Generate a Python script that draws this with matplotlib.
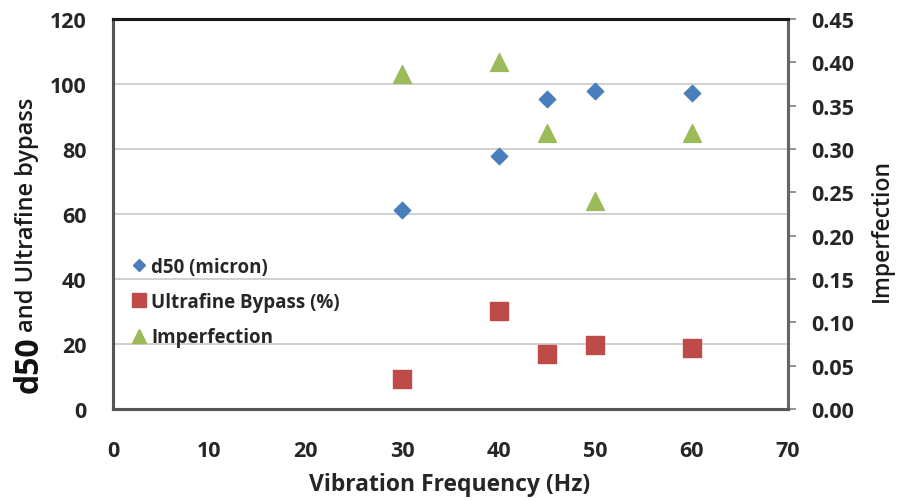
import matplotlib
matplotlib.use("Agg")
import matplotlib.pyplot as plt
from matplotlib.lines import Line2D

plt.rcParams['font.family'] = ['Open Sans', 'DejaVu Sans']

freq = [30, 40, 45, 50, 60]
d50 = [61.2, 77.8, 95.4, 98.0, 97.2]
ultrafine = [9.2, 30.2, 16.9, 19.7, 18.9]
imperfection = [0.387, 0.400, 0.319, 0.240, 0.319]

left_ticks = [0, 20, 40, 60, 80, 100, 120]
right_ticks = [0.00, 0.05, 0.10, 0.15, 0.20, 0.25, 0.30, 0.35, 0.40, 0.45]
x_ticks = [0, 10, 20, 30, 40, 50, 60, 70]

c_blue = '#4A7EBB'
c_red = '#BE4B48'
c_green = '#9BBB59'
c_text = '#262626'

W, H = 899, 502
fig = plt.figure(figsize=(W / 100, H / 100), dpi=100)
ax = fig.add_axes([113 / W, 1 - 410 / H, (788 - 113) / W, (410 - 20) / H])
ax2 = ax.twinx()

ax.set_xlim(0, 70)
ax.set_ylim(0, 120)
ax2.set_ylim(0, 0.45)

ax.scatter(freq, d50, marker='D', s=70, color=c_blue, zorder=3)
ax.scatter(freq, ultrafine, marker='s', s=150, color=c_red, zorder=3)
ax2.scatter(freq, imperfection, marker='^', s=165, color=c_green, zorder=3)

ax.set_yticks(left_ticks)
ax.set_xticks(x_ticks)
ax2.set_yticks(right_ticks)
ax2.set_yticklabels([f'{v:.2f}' for v in right_ticks])

ax.grid(axis='y', color='#c8c8c8', linewidth=1.2)
ax.set_axisbelow(True)

for lab in ax.get_xticklabels() + ax.get_yticklabels() + ax2.get_yticklabels():
    lab.set_fontsize(15.5)
    lab.set_fontweight('bold')
    lab.set_color(c_text)

ax.tick_params(axis='x', length=0, pad=22)
ax.tick_params(axis='y', length=0, pad=19)
ax2.tick_params(axis='y', length=6, width=1.2, color='#808080', pad=11, direction='out')

for a in (ax, ax2):
    a.spines['top'].set_color('#1a1a1a')
    a.spines['top'].set_linewidth(2.2)
    a.spines['left'].set_color('#555555')
    a.spines['left'].set_linewidth(2.2)
    a.spines['bottom'].set_color('#555555')
    a.spines['bottom'].set_linewidth(2.2)
    a.spines['right'].set_color('#666666')
    a.spines['right'].set_linewidth(2.2)

fig.text(450 / W, 1 - 485 / H, 'Vibration Frequency (Hz)', fontsize=16.5,
         fontweight='bold', color=c_text, ha='center', va='center')

# left axis title: "d50" set larger and bold, the rest in regular weight
fig.text(29 / W, 1 - 393 / H, 'd50', fontsize=23, fontweight='bold',
         color='#111111', rotation=90, ha='center', va='bottom')
fig.text(27 / W, 1 - 332 / H, 'and Ultrafine bypass', fontsize=17,
         fontweight='semibold', color='#1a1a1a', rotation=90, ha='center', va='bottom')

fig.text(882 / W, 1 - 230 / H, 'Imperfection', fontsize=16.5,
         fontweight='semibold', color='#1a1a1a', rotation=90, ha='center', va='center')

handles = [
    Line2D([], [], marker='D', color=c_blue, linestyle='none', markersize=6.5),
    Line2D([], [], marker='s', color=c_red, linestyle='none', markersize=9.5),
    Line2D([], [], marker='^', color=c_green, linestyle='none', markersize=9.5),
]
labels = ['d50 (micron)', 'Ultrafine Bypass (%)', 'Imperfection']
leg = ax2.legend(handles, labels, loc='upper left',
                 bbox_to_anchor=(0.018, 0.41), frameon=False,
                 handlelength=0.7, handletextpad=0.3, labelspacing=0.82,
                 borderaxespad=0.0,
                 prop={'size': 13.5, 'weight': 'bold'})
for t in leg.get_texts():
    t.set_color(c_text)

fig.savefig('out.png', dpi=100)
